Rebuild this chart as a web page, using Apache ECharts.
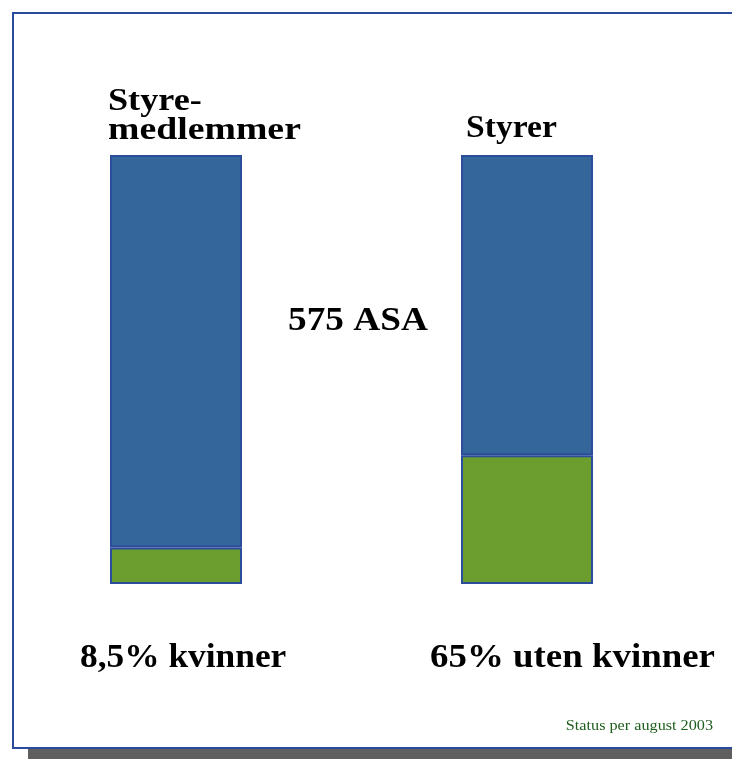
<!DOCTYPE html>
<html><head><meta charset="utf-8">
<style>html,body{margin:0;padding:0;background:#fff}#c{width:732px;height:759px}</style>
<script src="https://cdn.jsdelivr.net/npm/echarts@6/dist/echarts.min.js"></script>
</head><body><div id="c"></div>
<script>
const categories = ['Styremedlemmer', 'Styrer'];
const headLabels = ['Styre-', 'medlemmer', 'Styrer'];
const bottomLabels = ['8,5% kvinner', '65% uten kvinner'];
const greenValues = [8.5, 30];
const blueValues = [91.5, 70];
const centerLabel = '575 ASA';
const footnote = 'Status per august 2003';

const chart = echarts.init(document.getElementById('c'));
const font = '"Liberation Serif", "DejaVu Serif", serif';
function txt(text, x, y, size, sx, opts) {
  opts = opts || {};
  return { type: 'text', x: x, y: y, scaleX: sx, z: 10,
    style: { text: text, x: 0, y: 0, font: (opts.weight || 'bold') + ' ' + size + 'px ' + font,
      fill: opts.fill || '#000', align: opts.align || 'left', verticalAlign: 'middle' } };
}
chart.setOption({
  animation: false,
  grid: { left: 0.5, width: 702, top: 155, bottom: 175 },
  xAxis: { type: 'category', data: categories, show: false },
  yAxis: { type: 'value', min: 0, max: 100, show: false },
  graphic: [
    { type: 'rect', z: -10, shape: { x: 28, y: 28, width: 740, height: 740 }, style: { fill: '#5f5f5f' } },
    { type: 'rect', z: -9, shape: { x: 13, y: 13, width: 740, height: 735 }, style: { fill: '#ffffff', stroke: '#2a4a9c', lineWidth: 2 } },
    txt(headLabels[0], 108, 102, 32, 1.13),
    txt(headLabels[1], 108, 131, 32, 1.18),
    txt(headLabels[2], 466, 129, 32, 1.05),
    txt(centerLabel, 288, 321, 33, 1.13),
    txt(bottomLabels[0], 80, 658, 34, 1.04),
    txt(bottomLabels[1], 430, 658, 34, 1.085),
    txt(footnote, 713, 726, 15, 1.08, { weight: 'normal', fill: '#1d5e1d', align: 'right' })
  ],
  series: [
    { type: 'bar', stack: 's', data: greenValues, barWidth: 132,
      itemStyle: { color: '#6b9e2e', borderColor: '#2b4d9b', borderWidth: 2 } },
    { type: 'bar', stack: 's', data: blueValues, barWidth: 132,
      itemStyle: { color: '#34669b', borderColor: '#2b4d9b', borderWidth: 2 } }
  ]
});
</script></body></html>
